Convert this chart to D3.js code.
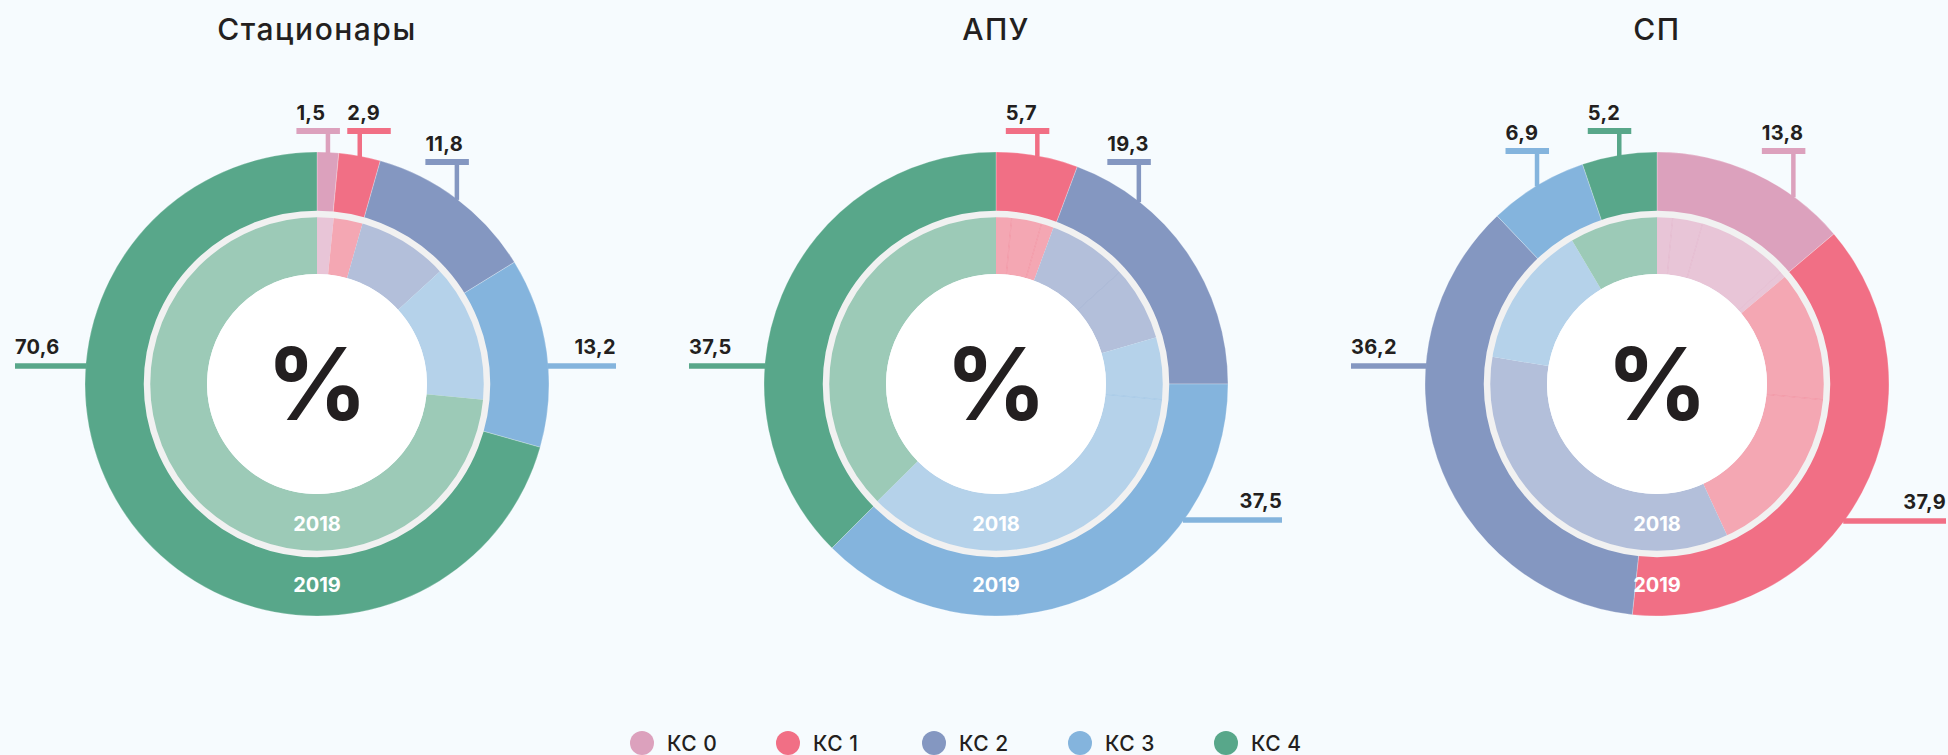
<!DOCTYPE html>
<meta charset="utf-8">
<style>
body {
  margin: 0;
  background: #f6fbfe;
  font-family: Inter, "Noto Sans", sans-serif;
}
svg text {
  fill: #231f20;
}
.title {
  font-size: 30px;
  font-weight: 500;
  letter-spacing: 1.5px;
  text-anchor: middle;
}
.val {
  font-size: 20px;
  font-weight: 700;
  letter-spacing: 0.3px;
}
.pct {
  font-size: 100px;
  font-weight: 700;
  text-anchor: middle;
}
svg text.year {
  font-size: 20px;
  font-weight: 700;
  fill: #fff;
  text-anchor: middle;
}
.leg {
  font-size: 21px;
  font-weight: 500;
  letter-spacing: 0.5px;
}
</style>
<body>
<script src="https://d3js.org/d3.v7.min.js"></script>
<script>
// categories and panels
var categories = ["КС 0", "КС 1", "КС 2", "КС 3", "КС 4"];
var panelNames = ["Стационары", "АПУ", "СП"];
var yearLabels = ["2018", "2019"];

// 2019 (outer ring), %
var stac2019 = [1.5, 2.9, 11.8, 13.2, 70.6];
var apu2019 = [0, 5.7, 19.3, 37.5, 37.5];
var sp2019 = [13.8, 37.9, 36.2, 6.9, 5.2];

// 2018 (inner ring), % - some categories come in several pieces
var stac2018 = [[1.6], [2.8], [8.8], [13.3], [73.5]];
var apu2018 = [[], [1.5, 2.9, 1.2], [7.7, 7.2], [6.0, 36.1], [37.4]];
var sp2018 = [[1.5, 2.9, 8.9, 0.6], [12.6, 16.6], [34.5], [13.9], [8.5]];

var outerSets = [stac2019, apu2019, sp2019];
var innerSets = [stac2018, apu2018, sp2018];

// colours
var dark = ["#dca1bd", "#f16f85", "#8497c1", "#84b4dd", "#58a78a"];
var light = ["#e8c5d7", "#f4a7b3", "#b3bfda", "#b5d2ea", "#9ccab7"];

// layout
var W = 1948, H = 755;
var centersX = [317, 996, 1657], cy = 384;
var rIn = 110, rMid = 170, rOut = 232;

// where each value label goes (one entry per category, null = none)
// top: bar offset from centre, deg: stem angle (default mid angle), flip: bar to the right
// side: line offset from centre, end: x end of the line relative to centre
var labelSpots = [
  [{top: -253}, {top: -253, flip: true}, {top: -222}, {side: -18, end: 299}, {side: -18, end: -302}],
  [null, {top: -253}, {top: -222, deg: 38}, {side: 136, end: 286}, {side: -18, end: -307}],
  [{top: -233, deg: 36}, {side: 137, end: 289}, {side: -18, end: -306}, {top: -233}, {top: -253}]
];

var fmt = function(v) { return d3.format(".1f")(v).replace(".", ","); };

var svg = d3.select("body").append("svg")
  .attr("width", W).attr("height", H);

var pie = d3.pie().sort(null).value(function(d) { return d.v; });
var outerArc = d3.arc().innerRadius(rMid).outerRadius(rOut);
var innerArc = d3.arc().innerRadius(rIn).outerRadius(rMid);

panelNames.forEach(function(name, p) {
  var cx = centersX[p];
  var g = svg.append("g");
  var ring = g.append("g").attr("transform", "translate(" + cx + "," + cy + ")");

  g.append("text").attr("class", "title")
    .attr("x", cx).attr("y", 40).text(name);

  // outer ring 2019
  var outerData = pie(outerSets[p].map(function(v, i) { return {cat: i, v: v}; }));
  ring.selectAll(".o").data(outerData).enter().append("path")
    .attr("class", "o")
    .attr("d", outerArc)
    .attr("fill", function(d) { return dark[d.data.cat]; })
    .attr("stroke", "#fff").attr("stroke-opacity", 0.35).attr("stroke-width", 0.7);

  // inner ring 2018
  var pieces = [];
  innerSets[p].forEach(function(arr, i) {
    arr.forEach(function(v) { pieces.push({cat: i, v: v}); });
  });
  var innerData = pie(pieces);
  ring.selectAll(".i").data(innerData).enter().append("path")
    .attr("class", "i")
    .attr("d", innerArc)
    .attr("fill", function(d) { return light[d.data.cat]; });

  // thin lines between pieces of the same category
  innerData.forEach(function(d, k) {
    if (k > 0 && innerData[k - 1].data.cat === d.data.cat) {
      var a = d.startAngle;
      ring.append("line")
        .attr("x1", rIn * Math.sin(a)).attr("y1", -rIn * Math.cos(a))
        .attr("x2", rMid * Math.sin(a)).attr("y2", -rMid * Math.cos(a))
        .attr("stroke", dark[d.data.cat]).attr("stroke-opacity", 0.45)
        .attr("stroke-width", 0.8);
    }
  });

  // separator ring and centre
  ring.append("circle").attr("r", rMid)
    .attr("fill", "none").attr("stroke", "#f1f1f1").attr("stroke-width", 6.5);
  ring.append("circle").attr("r", rIn).attr("fill", "#fff");

  ring.append("text").attr("class", "pct").attr("y", 36).text("%");
  ring.append("text").attr("class", "year")
    .attr("y", (rIn + rMid) / 2).attr("dy", "0.35em").text(yearLabels[0]);
  ring.append("text").attr("class", "year")
    .attr("y", (rMid + rOut) / 2).attr("dy", "0.35em").text(yearLabels[1]);

  // value labels for 2019
  outerData.forEach(function(d, i) {
    var spot = labelSpots[p][i];
    if (!spot || d.data.v === 0) return;
    var col = dark[i];
    var txt = fmt(d.data.v);
    if (spot.top != null) {
      var a = spot.deg != null ? spot.deg * Math.PI / 180 : (d.startAngle + d.endAngle) / 2;
      var sx = cx + rOut * Math.sin(a), sy = cy - rOut * Math.cos(a);
      var by = cy + spot.top;
      g.append("line")
        .attr("x1", sx).attr("x2", sx).attr("y1", sy + 1).attr("y2", by)
        .attr("stroke", col).attr("stroke-width", 4.5);
      var t = g.append("text").attr("class", "val").attr("y", by - 11).text(txt);
      var w = Math.max(t.node().getComputedTextLength(), 43.5);
      var x0 = spot.flip ? sx - 12.5 : sx + 12 - w;
      t.attr("x", x0);
      g.append("line")
        .attr("x1", x0).attr("x2", x0 + w).attr("y1", by).attr("y2", by)
        .attr("stroke", col).attr("stroke-width", 6);
    } else {
      var y = cy + spot.side;
      var edge = Math.sqrt(rOut * rOut - spot.side * spot.side) - 1;
      var s = spot.end < 0 ? -1 : 1;
      g.append("line")
        .attr("x1", cx + s * edge).attr("x2", cx + spot.end)
        .attr("y1", y).attr("y2", y)
        .attr("stroke", col).attr("stroke-width", 5.5);
      g.append("text").attr("class", "val")
        .attr("x", cx + spot.end).attr("y", y - 12)
        .attr("text-anchor", s < 0 ? "start" : "end")
        .text(txt);
    }
  });
});

// legend
var legend = svg.append("g").attr("transform", "translate(642,743)");
var item = legend.selectAll("g").data(categories).enter().append("g")
  .attr("transform", function(d, i) { return "translate(" + (i * 146) + ",0)"; });
item.append("circle").attr("r", 12).attr("fill", function(d, i) { return dark[i]; });
item.append("text").attr("class", "leg").attr("x", 25).attr("dy", "0.36em")
  .text(function(d) { return d; });
</script>
</body>
